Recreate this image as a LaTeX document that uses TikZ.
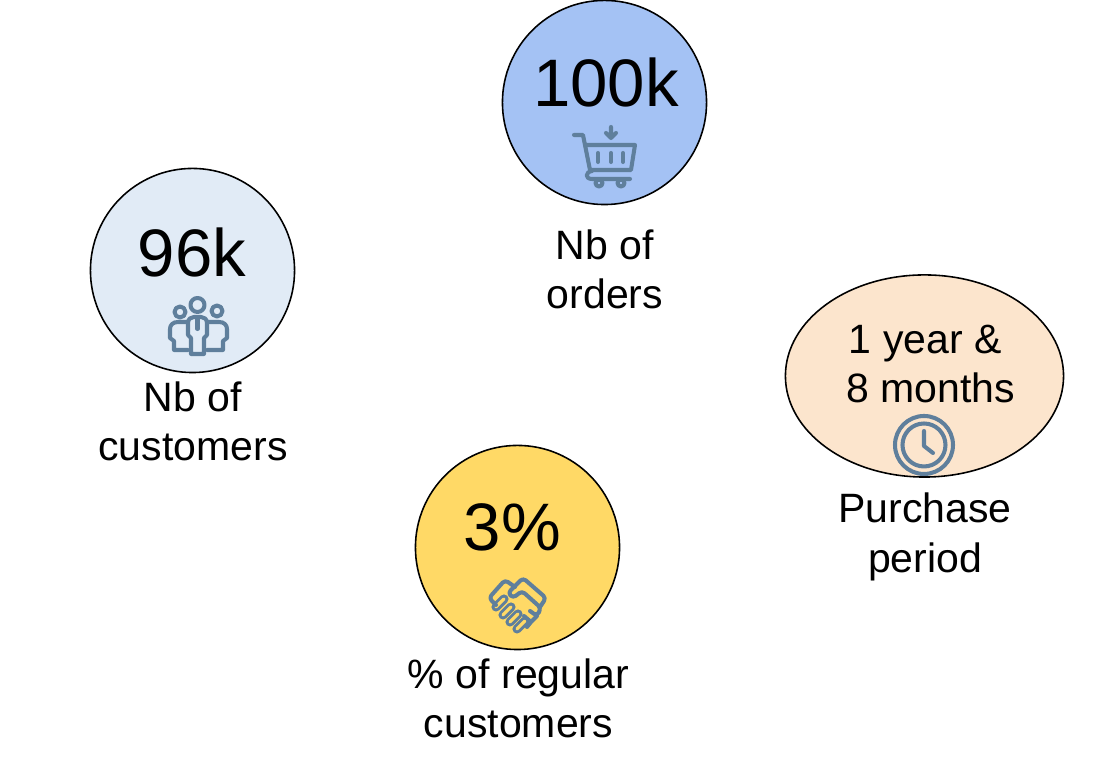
\documentclass[tikz,border=0pt]{standalone}
\usepackage{fontspec}
\setmainfont{Liberation Sans}
\usetikzlibrary{shapes.geometric}
\definecolor{ordersblue}{HTML}{A4C2F4}
\definecolor{customersblue}{HTML}{E1EBF6}
\definecolor{regularyellow}{HTML}{FFD966}
\definecolor{periodpeach}{HTML}{FCE5CD}
\definecolor{iconblue}{HTML}{5F7F9C}
\tikzset{
	kpi/.style={circle, draw=black, line width=0.45pt, minimum size=2.04cm, inner sep=0pt},
	bignum/.style={font=\fontsize{19.1}{23}\selectfont, inner sep=0pt},
	caption/.style={font=\fontsize{11.66}{14}\selectfont, align=center, inner sep=0pt},
	icon/.style={draw=iconblue, line width=1.15pt, line cap=round, line join=round}
}
\begin{document}
\begin{tikzpicture}[x=0.01cm, y=-0.01cm]
	\useasboundingbox (0,0) rectangle (1117,765);
	%%%	Circles
	\node[kpi, fill=ordersblue] (orders) at (604.5,102.5) {};
	\node[kpi, fill=customersblue] (customers) at (192.5,270.5) {};
	\node[kpi, fill=regularyellow] (regular) at (517.5,547.5) {};
	\node[ellipse, draw=black, line width=0.45pt, fill=periodpeach, minimum width=2.78cm, minimum height=2.02cm, inner sep=0pt] (period) at (924.5,376) {};
	%%%	Numbers
	\node[bignum] (ordersnum) at (606,83) {100k};
	\node[bignum] (customersnum) at (192,253) {96k};
	\node[bignum] (regularnum) at (512.5,527) {3\%};
	\node[caption] (periodnum) at (931,364) {1 year \&\hspace*{0.278em}\\ 8 months};
	%%%	Captions
	\node[caption] (orderstext) at (605,269.5) {Nb of\\ orders};
	\node[caption] (customerstext) at (193,421) {Nb of\\ customers};
	\node[caption] (regulartext) at (518.5,698) {\% of regular\\ customers};
	\node[caption] (periodtext) at (925,537) {Purchase\\ period};
	%%%	Cart
	\draw[icon] (574,135) -- (583,135) -- (590,170) (587,145) -- (635,145) -- (631,170) -- (592,170);
	\draw[icon] (592,171) .. controls (585,172) and (585,179) .. (592,179) -- (630,179);
	\draw[icon] (599,183) circle[radius=3.5] (621,183) circle[radius=3.5];
	\foreach \barx in {598,611,623}
		\draw[icon] (\barx,153) -- (\barx,162);
	\draw[icon] (611,127) -- (611,137) (606,133) -- (611,138) -- (616,133);
	%%%	People
	\draw[icon] (197.5,305) circle[radius=7] (180,312) circle[radius=5.5] (217,311) circle[radius=5.5];
	\draw[icon] (191,354) -- (191,338) -- (188,335) -- (188,323) .. controls (188,319) and (191,317) .. (194,317) -- (201,317) .. controls (204,317) and (207,319) .. (207,323) -- (207,335) -- (204,338) -- (204,354) -- cycle;
	\draw[icon] (197.5,319) -- (197.5,329);
	\draw[icon] (187,322) -- (178,322) .. controls (173,322) and (170,325) .. (170,329) -- (170,338) -- (174,341) -- (174,350) -- (188,350);
	\draw[icon] (208,322) -- (219,322) .. controls (224,322) and (227,325) .. (227,329) -- (227,338) -- (223,341) -- (223,350) -- (207,350);
	%%%	Handshake
	\foreach \fingx/\fingy in {500/603,507/611,514/618,521/625}
		\draw[icon, line width=0.85pt, double=regularyellow, double distance=0.9pt] (\fingx-4,\fingy+4) -- (\fingx+4,\fingy-4);
	\draw[icon, rounded corners=1pt] (496,605) -- (489,598) -- (505,580) -- (515,587);
	\draw[icon, rounded corners=1pt] (540,607) -- (546,598) -- (523,578) -- (508,593) -- (513,598) -- (522,591) -- (541,608) -- (537,616) -- (530,611);
	\draw[icon] (537,616) -- (531,622) -- (524,616) (531,622) -- (527,627);
	%%%	Clock
	\draw[icon] (924,445) circle[radius=29] (924,445) circle[radius=21.5];
	\draw[icon] (924,431) -- (924,446) -- (933,453);
\end{tikzpicture}
\end{document}
